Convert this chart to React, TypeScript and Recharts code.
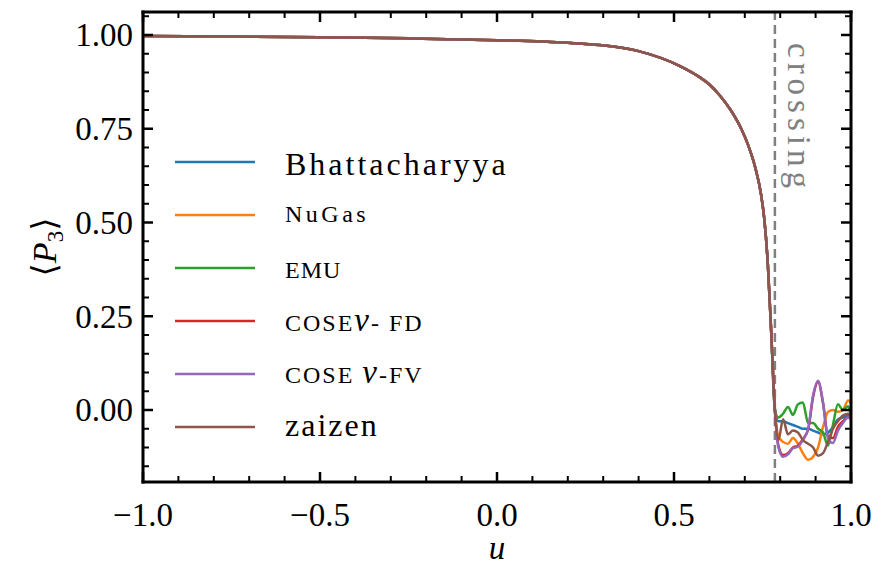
import { LineChart, Line, XAxis, YAxis, ReferenceLine, Legend } from "recharts";

const SERIF = '"Liberation Serif", "DejaVu Serif", serif';

// smooth part of <P3>(u), all six codes sit on top of each other here
const uShared = [-1.0, -0.75, -0.5, -0.25, 0.0, 0.2, 0.29, 0.4, 0.517, 0.573, 0.6, 0.63, 0.66, 0.69, 0.71, 0.73, 0.745, 0.755, 0.765, 0.775, 0.785];
const pShared = [0.997, 0.996, 0.994, 0.991, 0.986, 0.979, 0.973, 0.957, 0.917, 0.887, 0.868, 0.838, 0.8, 0.75, 0.705, 0.645, 0.58, 0.51, 0.39, 0.2, 0.0];

// past the crossing the codes wiggle apart; read on one u grid
const uTail = [0.795, 0.808, 0.822, 0.836, 0.85, 0.864, 0.879, 0.893, 0.907, 0.921, 0.935, 0.949, 0.963, 0.977, 0.992, 1.0];
const bhattacharyyaTail = [-0.03, -0.03, -0.035, -0.04, -0.045, -0.05, -0.05, -0.055, -0.06, -0.065, -0.06, -0.045, -0.025, -0.02, -0.015, -0.02];
const nugasTail = [-0.07, -0.085, -0.09, -0.075, -0.09, -0.115, -0.133, -0.125, -0.1, -0.045, -0.005, 0.0, -0.005, 0.0, 0.025, 0.02];
const emuTail = [-0.02, -0.01, 0.008, -0.013, 0.015, 0.02, -0.035, -0.035, -0.05, -0.06, -0.095, -0.04, 0.015, 0.0, 0.01, -0.02];
const fdTail = [-0.095, -0.12, -0.115, -0.1, -0.095, -0.078, -0.052, 0.035, 0.075, 0.018, -0.07, -0.075, -0.045, -0.03, -0.02, -0.02];
const fvTail = [-0.1, -0.125, -0.118, -0.102, -0.098, -0.08, -0.05, 0.04, 0.078, 0.02, -0.075, -0.088, -0.055, -0.035, -0.02, -0.025];
const zaizenTail = [-0.08, -0.025, -0.065, -0.055, -0.06, -0.08, -0.09, -0.1, -0.122, -0.115, -0.085, -0.05, -0.03, -0.015, -0.01, -0.015];

const crossingU = 0.785;

const xTicks = [-1.0, -0.9, -0.8, -0.7, -0.6, -0.5, -0.4, -0.3, -0.2, -0.1, 0.0, 0.1, 0.2, 0.3, 0.4, 0.5, 0.6, 0.7, 0.8, 0.9, 1.0];
const xMajor = [-1.0, -0.5, 0.0, 0.5, 1.0];
const xTickLabels = ["\u22121.0", "\u22120.5", "0.0", "0.5", "1.0"];
const yTicks = [-0.15, -0.1, -0.05, 0.0, 0.05, 0.1, 0.15, 0.2, 0.25, 0.3, 0.35, 0.4, 0.45, 0.5, 0.55, 0.6, 0.65, 0.7, 0.75, 0.8, 0.85, 0.9, 0.95, 1.0, 1.05];
const yMajor = [0.0, 0.25, 0.5, 0.75, 1.0];
const yTickLabels = ["0.00", "0.25", "0.50", "0.75", "1.00"];

const SERIES = [
  { key: "bhattacharyya", color: "#1f77b4", tail: bhattacharyyaTail },
  { key: "nugas", color: "#ff7f0e", tail: nugasTail },
  { key: "emu", color: "#2ca02c", tail: emuTail },
  { key: "fd", color: "#d62728", tail: fdTail },
  { key: "fv", color: "#9467bd", tail: fvTail },
  { key: "zaizen", color: "#8c564b", tail: zaizenTail },
];

const rows = [
  ...uShared.map((u, i) => {
    const row: Record<string, number> = { u };
    SERIES.forEach((s) => (row[s.key] = pShared[i]));
    return row;
  }),
  ...uTail.map((u, i) => {
    const row: Record<string, number> = { u };
    SERIES.forEach((s) => (row[s.key] = s.tail[i]));
    return row;
  }),
];

const majorIndex = (v: number, majors: number[]) => majors.findIndex((m) => Math.abs(m - v) < 1e-6);

// ticks point into the frame on all four sides, labels only bottom/left
function makeTick(side: "bottom" | "top" | "left" | "right") {
  return (props: any) => {
    const { x, y, payload } = props;
    const horizontal = side === "bottom" || side === "top";
    const idx = majorIndex(payload.value, horizontal ? xMajor : yMajor);
    const len = idx >= 0 ? 10 : 6;
    const w = idx >= 0 ? 2.5 : 2;
    let x2 = x;
    let y2 = y;
    if (side === "bottom") y2 = y - len;
    if (side === "top") y2 = y + len;
    if (side === "left") x2 = x + len;
    if (side === "right") x2 = x - len;
    return (
      <g>
        <line x1={x} y1={y} x2={x2} y2={y2} stroke="#000" strokeWidth={w} />
        {idx >= 0 && side === "bottom" && (
          <text x={x} y={y + 44} textAnchor="middle" fontFamily={SERIF} fontSize={33} fill="#000">
            {xTickLabels[idx]}
          </text>
        )}
        {idx >= 0 && side === "left" && (
          <text x={x - 10} y={y + 11.5} textAnchor="end" fontFamily={SERIF} fontSize={33} fill="#000">
            {yTickLabels[idx]}
          </text>
        )}
      </g>
    );
  };
}

function legendLabel(key: string) {
  const base = { fontFamily: SERIF, fill: "#000" };
  switch (key) {
    case "bhattacharyya":
      return { dy: 13, node: <text {...base} fontSize={32} letterSpacing={3}>Bhattacharyya</text> };
    case "nugas":
      return { dy: 7, node: <text {...base} fontSize={24} letterSpacing={3.5}>NuGas</text> };
    case "emu":
      return { dy: 10, node: <text {...base} fontSize={24} letterSpacing={1}>EMU</text> };
    case "fd":
      return {
        dy: 10,
        node: (
          <text {...base} fontSize={24} letterSpacing={2}>
            COSE<tspan fontStyle="italic" fontSize={33}>ν</tspan>- FD
          </text>
        ),
      };
    case "fv":
      return {
        dy: 9,
        node: (
          <text {...base} fontSize={24} letterSpacing={2}>
            COSE <tspan fontStyle="italic" fontSize={33}>ν</tspan>-FV
          </text>
        ),
      };
    default:
      return { dy: 9, node: <text {...base} fontSize={32} letterSpacing={2}>zaizen</text> };
  }
}

const LEGEND_LEFT = 160;
const LEGEND_TOP = 135;
const seriesOrder = (key: string) => SERIES.findIndex((s) => s.key === key);

function LegendBox(props: any) {
  const payload: any[] = [...(props.payload || [])].sort(
    (a, b) => seriesOrder(a.dataKey) - seriesOrder(b.dataKey),
  );
  return (
    <svg width={380} height={320} style={{ display: "block" }}>
      {payload.map((entry, i) => {
        const cy = 162 - LEGEND_TOP + i * 53;
        const lab = legendLabel(entry.dataKey);
        return (
          <g key={entry.dataKey}>
            <line x1={175 - LEGEND_LEFT} x2={255 - LEGEND_LEFT} y1={cy} y2={cy} stroke={entry.color} strokeWidth={2.5} />
            <g transform={`translate(${285 - LEGEND_LEFT}, ${cy + lab.dy})`}>{lab.node}</g>
          </g>
        );
      })}
    </svg>
  );
}

export default function App() {
  const frame = { stroke: "#000", strokeWidth: 3, strokeLinecap: "square" as const };
  return (
    <div style={{ position: "absolute", left: 0, top: 0, background: "#fff" }}>
      <LineChart width={892} height={567} data={rows} margin={{ top: 2, right: 31, bottom: 25, left: 83 }}>
        <XAxis
          xAxisId="b"
          dataKey="u"
          type="number"
          domain={[-1, 1]}
          ticks={xTicks}
          interval={0}
          allowDataOverflow
          height={60}
          tickSize={0}
          tickMargin={0}
          tickLine={false}
          axisLine={frame}
          tick={makeTick("bottom")}
          label={(p: any) => {
            const vb = p.viewBox;
            return (
              <text x={vb.x + vb.width / 2} y={vb.y + 77} textAnchor="middle" fontFamily={SERIF} fontStyle="italic" fontSize={33}>
                u
              </text>
            );
          }}
        />
        <XAxis
          xAxisId="t"
          orientation="top"
          dataKey="u"
          type="number"
          domain={[-1, 1]}
          ticks={xTicks}
          interval={0}
          allowDataOverflow
          height={10}
          tickSize={0}
          tickMargin={0}
          tickLine={false}
          axisLine={frame}
          tick={makeTick("top")}
        />
        <YAxis
          yAxisId="l"
          type="number"
          domain={[-0.192, 1.0613]}
          ticks={yTicks}
          interval={0}
          allowDataOverflow
          width={60}
          tickSize={0}
          tickMargin={0}
          tickLine={false}
          axisLine={frame}
          tick={makeTick("left")}
          label={(p: any) => {
            const vb = p.viewBox;
            const cx = vb.x - 27;
            const cy = vb.y + vb.height / 2;
            return (
              <text
                x={cx}
                y={cy}
                transform={`rotate(-90 ${cx} ${cy})`}
                textAnchor="middle"
                fontFamily={SERIF}
                fontSize={34}
              >
                ⟨<tspan fontStyle="italic">P</tspan>
                <tspan fontSize={23} dy={7}>3</tspan>
                <tspan dy={-7}>⟩</tspan>
              </text>
            );
          }}
        />
        <YAxis
          yAxisId="r"
          orientation="right"
          type="number"
          domain={[-0.192, 1.0613]}
          ticks={yTicks}
          interval={0}
          allowDataOverflow
          width={10}
          tickSize={0}
          tickMargin={0}
          tickLine={false}
          axisLine={frame}
          tick={makeTick("right")}
        />
        <ReferenceLine
          xAxisId="b"
          yAxisId="l"
          x={crossingU}
          stroke="#808080"
          strokeWidth={2.5}
          strokeDasharray="9 5"
          label={(p: any) => {
            const vb = p.viewBox;
            const lx = vb.x + 13;
            const ly = vb.y + 31;
            return (
              <text
                x={lx}
                y={ly}
                transform={`rotate(90 ${lx} ${ly})`}
                fontFamily={SERIF}
                fontSize={33}
                letterSpacing={5}
                fill="#808080"
              >
                crossing
              </text>
            );
          }}
        />
        {SERIES.map((s) => (
          <Line
            key={s.key}
            xAxisId="b"
            yAxisId="l"
            type="monotone"
            dataKey={s.key}
            stroke={s.color}
            strokeWidth={2.5}
            dot={false}
            activeDot={false}
            isAnimationActive={false}
          />
        ))}
        <Legend
          layout="vertical"
          align="center"
          verticalAlign="middle"
          content={LegendBox}
          wrapperStyle={{ left: LEGEND_LEFT, top: LEGEND_TOP, width: 380, height: 320 }}
        />
      </LineChart>
    </div>
  );
}
